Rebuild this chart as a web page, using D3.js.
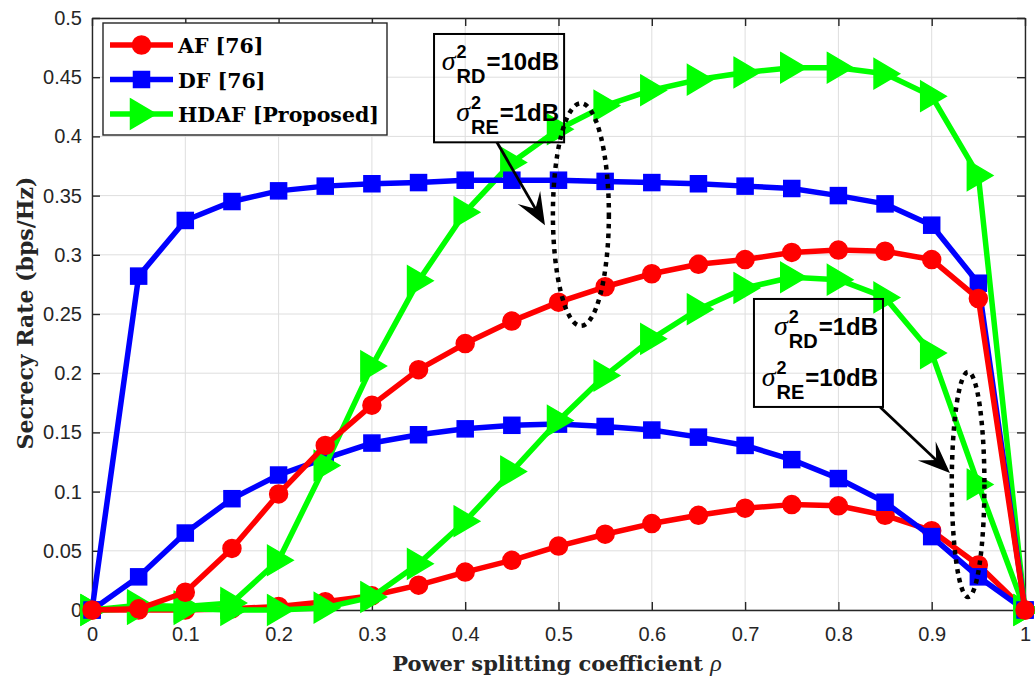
<!DOCTYPE html>
<html>
<head>
<meta charset="utf-8">
<script src="https://cdn.jsdelivr.net/npm/d3@7"></script>
<style>
  body { margin: 0; background: #fff; }
  svg { display: block; }
</style>
</head>
<body>
<svg id="chart" width="1035" height="676"></svg>
<script>
// Power splitting coefficient (x axis)
const rho = [0, 0.05, 0.1, 0.15, 0.2, 0.25, 0.3, 0.35, 0.4, 0.45, 0.5,
             0.55, 0.6, 0.65, 0.7, 0.75, 0.8, 0.85, 0.9, 0.95, 1];

// Scenario sigma_RD^2 = 10 dB, sigma_RE^2 = 1 dB
const afHigh   = [0, 0.001, 0.015, 0.052, 0.098, 0.139, 0.173, 0.203, 0.225, 0.244, 0.260,
                  0.273, 0.284, 0.292, 0.296, 0.302, 0.304, 0.303, 0.296, 0.263, 0];
const dfHigh   = [0, 0.282, 0.329, 0.345, 0.354, 0.358, 0.360, 0.361, 0.363, 0.363, 0.363,
                  0.362, 0.361, 0.360, 0.358, 0.356, 0.350, 0.343, 0.325, 0.276, 0];
const hdafHigh = [0, 0.004, 0.003, 0.006, 0.042, 0.122, 0.206, 0.278, 0.336, 0.378, 0.406,
                  0.426, 0.439, 0.448, 0.454, 0.458, 0.458, 0.453, 0.434, 0.367, 0];

// Scenario sigma_RD^2 = 1 dB, sigma_RE^2 = 10 dB
const afLow    = [0, 0, 0, 0.001, 0.003, 0.007, 0.012, 0.021, 0.032, 0.042, 0.054,
                  0.064, 0.073, 0.080, 0.086, 0.089, 0.088, 0.080, 0.067, 0.038, 0];
const dfLow    = [0, 0.028, 0.065, 0.094, 0.114, 0.128, 0.141, 0.148, 0.153, 0.156, 0.157,
                  0.155, 0.152, 0.146, 0.139, 0.127, 0.111, 0.091, 0.062, 0.028, 0];
const hdafLow  = [0, 0.001, 0.001, 0, 0, 0.002, 0.011, 0.039, 0.075, 0.117, 0.160,
                  0.198, 0.229, 0.254, 0.272, 0.281, 0.279, 0.264, 0.217, 0.106, 0];

const xTicks = [0, 0.1, 0.2, 0.3, 0.4, 0.5, 0.6, 0.7, 0.8, 0.9, 1];
const yTicks = [0, 0.05, 0.1, 0.15, 0.2, 0.25, 0.3, 0.35, 0.4, 0.45, 0.5];

const legendLabels = ["AF [76]", "DF [76]", "HDAF [Proposed]"];
const seriesColors = { AF: "#ff0000", DF: "#0000ff", HDAF: "#00ff00" };

const svg = d3.select("#chart");
const W = 1035, H = 676;
const margin = { left: 92, right: 10, top: 18, bottom: 66 };
const x = d3.scaleLinear().domain([0, 1]).range([margin.left, W - margin.right]);
const y = d3.scaleLinear().domain([0, 0.5]).range([H - margin.bottom, margin.top]);

const axisColor = "#262626";
const tickFmt = d => String(+(+d).toFixed(2));

svg.append("rect").attr("width", W).attr("height", H).attr("fill", "#fff");

// grid
const grid = svg.append("g");
grid.selectAll(".gx").data(xTicks).join("line")
  .attr("x1", d => x(d)).attr("x2", d => x(d))
  .attr("y1", y(0)).attr("y2", y(0.5))
  .attr("stroke", "#dedede").attr("stroke-width", 1);
grid.selectAll(".gy").data(yTicks).join("line")
  .attr("x1", x(0)).attr("x2", x(1))
  .attr("y1", d => y(d)).attr("y2", d => y(d))
  .attr("stroke", "#dedede").attr("stroke-width", 1);

// axes (ticks point inward on all four sides)
function styleAxis(g) {
  g.selectAll("path").attr("stroke", axisColor).attr("stroke-width", 1.4);
  g.selectAll("line").attr("stroke", axisColor).attr("stroke-width", 1.4);
  g.selectAll("text").attr("fill", axisColor)
    .attr("font-family", "'Liberation Sans', Arial, sans-serif").attr("font-size", 20);
}
svg.append("g").attr("transform", `translate(0,${y(0)})`)
  .call(d3.axisBottom(x).tickValues(xTicks).tickFormat(tickFmt).tickSize(-8).tickSizeOuter(0).tickPadding(17))
  .call(styleAxis);
svg.append("g").attr("transform", `translate(0,${y(0.5)})`)
  .call(d3.axisTop(x).tickValues(xTicks).tickFormat("").tickSize(-8).tickSizeOuter(0))
  .call(styleAxis);
svg.append("g").attr("transform", `translate(${x(0)},0)`)
  .call(d3.axisLeft(y).tickValues(yTicks).tickFormat(tickFmt).tickSize(-8).tickSizeOuter(0).tickPadding(10))
  .call(styleAxis);
svg.append("g").attr("transform", `translate(${x(1)},0)`)
  .call(d3.axisRight(y).tickValues(yTicks).tickFormat("").tickSize(-8).tickSizeOuter(0))
  .call(styleAxis);

// markers
const markers = {
  circle: g => g.append("circle").attr("r", 9),
  square: g => g.append("rect").attr("x", -8).attr("y", -8).attr("width", 16).attr("height", 16),
  triangle: g => g.append("path").attr("d", "M-11,-15 L14.5,0 L-11,15 Z")
};

function drawSeries(values, color, shape) {
  const pts = rho.map((r, i) => [r, values[i]]);
  const g = svg.append("g");
  g.append("path").datum(pts)
    .attr("fill", "none").attr("stroke", color).attr("stroke-width", 5.5)
    .attr("stroke-linejoin", "round")
    .attr("d", d3.line().x(d => x(d[0])).y(d => y(d[1])));
  pts.forEach(p => {
    const m = g.append("g").attr("transform", `translate(${x(p[0])},${y(p[1])})`);
    markers[shape](m).attr("fill", color).attr("stroke", color).attr("stroke-width", 1.5);
  });
}

drawSeries(afLow, seriesColors.AF, "circle");
drawSeries(dfLow, seriesColors.DF, "square");
drawSeries(hdafLow, seriesColors.HDAF, "triangle");
drawSeries(hdafHigh, seriesColors.HDAF, "triangle");
drawSeries(dfHigh, seriesColors.DF, "square");
drawSeries(afHigh, seriesColors.AF, "circle");

// annotations: noise-variance text boxes, arrows and dotted ellipses
const notes = [
  { box: [0.3666, 0.4865, 0.506, 0.395],
    lines: [["RD", "=10dB"], ["RE", "=1dB"]],
    arrow: [[0.434, 0.395], [0.4855, 0.325]],
    ellipse: { cx: 0.524, cy: 0.334, rx: 0.030, ry: 0.094 } },
  { box: [0.7095, 0.2627, 0.8478, 0.1715],
    lines: [["RD", "=1dB"], ["RE", "=10dB"]],
    arrow: [[0.8446, 0.1715], [0.9196, 0.1157]],
    ellipse: { cx: 0.939, cy: 0.106, rx: 0.0175, ry: 0.095 } }
];

function sigmaLabel(g, xRight, yBase, sub, rest) {
  const main = g.append("text").attr("x", xRight).attr("y", yBase)
    .attr("text-anchor", "end").attr("font-family", "'Liberation Sans', Arial, sans-serif")
    .attr("font-weight", "bold").attr("font-size", 24).attr("fill", "#000").text(rest);
  const mw = main.node().getComputedTextLength();
  const subX = xRight - mw - 1;
  const subT = g.append("text").attr("x", subX).attr("y", yBase + 13)
    .attr("text-anchor", "end").attr("font-family", "'Liberation Sans', Arial, sans-serif")
    .attr("font-weight", "bold").attr("font-size", 20).attr("fill", "#000").text(sub);
  const sw = subT.node().getComputedTextLength();
  const left = subX - sw;
  g.append("text").attr("x", left).attr("y", yBase - 12)
    .attr("font-family", "'Liberation Sans', Arial, sans-serif")
    .attr("font-weight", "bold").attr("font-size", 18).attr("fill", "#000").text("2");
  g.append("text").attr("x", left - 1).attr("y", yBase)
    .attr("text-anchor", "end").attr("font-family", "'Liberation Serif', 'Times New Roman', serif")
    .attr("font-style", "italic").attr("font-size", 28).attr("fill", "#000").text("σ");
}

notes.forEach(n => {
  const g = svg.append("g");
  const [bx0, by0, bx1, by1] = n.box;
  g.append("rect")
    .attr("x", x(bx0)).attr("y", y(by0))
    .attr("width", x(bx1) - x(bx0)).attr("height", y(by1) - y(by0))
    .attr("fill", "none").attr("stroke", "#000").attr("stroke-width", 2);
  sigmaLabel(g, x(bx1) - 5, y(by0) + 36, n.lines[0][0], n.lines[0][1]);
  sigmaLabel(g, x(bx1) - 5, y(by0) + 87, n.lines[1][0], n.lines[1][1]);

  // arrow with swept-back head
  const s = [x(n.arrow[0][0]), y(n.arrow[0][1])];
  const t = [x(n.arrow[1][0]), y(n.arrow[1][1])];
  const len = Math.hypot(t[0] - s[0], t[1] - s[1]);
  const u = [(t[0] - s[0]) / len, (t[1] - s[1]) / len];
  const p = [-u[1], u[0]];
  const at = (a, b) => [t[0] + a * u[0] + b * p[0], t[1] + a * u[1] + b * p[1]];
  g.append("line").attr("x1", s[0]).attr("y1", s[1])
    .attr("x2", at(-18, 0)[0]).attr("y2", at(-18, 0)[1])
    .attr("stroke", "#000").attr("stroke-width", 2.8);
  g.append("path")
    .attr("d", "M" + [t, at(-32, 13), at(-19, 0), at(-32, -13)].map(q => q.join(",")).join("L") + "Z")
    .attr("fill", "#000");

  const e = n.ellipse;
  g.append("ellipse")
    .attr("cx", x(e.cx)).attr("cy", y(e.cy))
    .attr("rx", x(e.rx) - x(0)).attr("ry", y(0) - y(e.ry))
    .attr("fill", "none").attr("stroke", "#000")
    .attr("stroke-width", 4.5).attr("stroke-dasharray", "4.5 5");
});

// legend
const lg = svg.append("g");
lg.append("rect").attr("x", 103).attr("y", 23).attr("width", 284).attr("height", 112)
  .attr("fill", "#fff").attr("stroke", axisColor).attr("stroke-width", 1.4);
const legendShapes = ["circle", "square", "triangle"];
const legendColors = [seriesColors.AF, seriesColors.DF, seriesColors.HDAF];
legendLabels.forEach((label, i) => {
  const cy = 45 + i * 34.5;
  lg.append("line").attr("x1", 110).attr("x2", 173).attr("y1", cy).attr("y2", cy)
    .attr("stroke", legendColors[i]).attr("stroke-width", 5.5);
  const m = lg.append("g").attr("transform", `translate(141.5,${cy})`);
  markers[legendShapes[i]](m).attr("fill", legendColors[i]).attr("stroke", legendColors[i]).attr("stroke-width", 1.5);
  lg.append("text").attr("x", 178).attr("y", cy + 8)
    .attr("font-family", "'DejaVu Serif', serif").attr("font-weight", "bold")
    .attr("font-size", 20.5).attr("fill", "#000").text(label);
});

// axis titles
const xl = svg.append("text").attr("x", 557).attr("y", 671).attr("text-anchor", "middle")
  .attr("font-family", "'DejaVu Serif', serif").attr("font-weight", "bold")
  .attr("font-size", 21).attr("fill", "#262626");
xl.append("tspan").text("Power splitting coefficient ");
xl.append("tspan").attr("font-weight", "normal").attr("font-style", "italic")
  .attr("font-family", "'Liberation Serif', serif").attr("font-size", 24).text("ρ");

svg.append("text").attr("transform", "rotate(-90)")
  .attr("x", -313).attr("y", 33).attr("text-anchor", "middle")
  .attr("font-family", "'DejaVu Serif', serif").attr("font-weight", "bold")
  .attr("font-size", 22).attr("fill", "#262626")
  .text("Secrecy Rate (bps/Hz)");
</script>
</body>
</html>
